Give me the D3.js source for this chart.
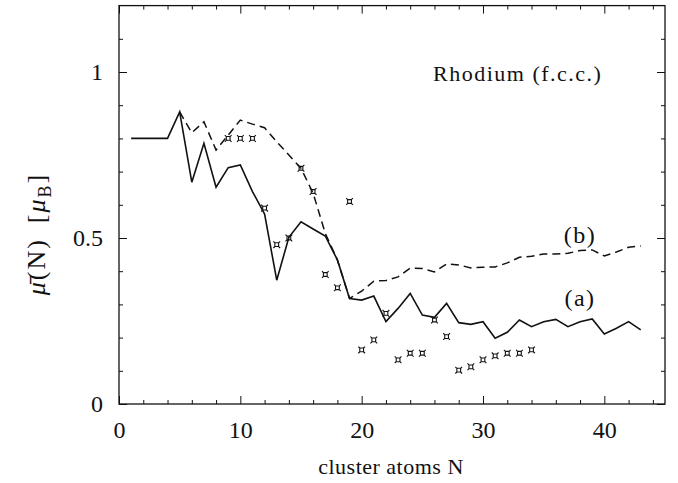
<!DOCTYPE html>
<html>
<head>
<meta charset="utf-8">
<script src="https://cdn.jsdelivr.net/npm/d3@7"></script>
<style>
  body { margin: 0; background: #fff; }
  svg text { font-family: "Liberation Serif", "DejaVu Serif", serif; fill: #111; }
  .axis path { display: none; }
  .axis line { stroke: #111; stroke-width: 1; }
</style>
</head>
<body>
<svg id="chart" width="678" height="483"></svg>
<script>
// cluster size N for the two calculated curves
var nA = d3.range(1, 44);
var nB = d3.range(5, 44);

// (a) solid curve
var muA = [0.80, 0.80, 0.80, 0.80, 0.88, 0.668, 0.785, 0.653, 0.712, 0.72,
           0.64, 0.572, 0.373, 0.502, 0.549, 0.527, 0.506, 0.434, 0.318, 0.313,
           0.325, 0.248, 0.288, 0.333, 0.268, 0.261, 0.303, 0.245, 0.240, 0.248,
           0.198, 0.216, 0.253, 0.233, 0.248, 0.255, 0.233, 0.248, 0.256, 0.211,
           0.228, 0.248, 0.223];

// (b) dashed curve
var muB = [0.88, 0.817, 0.85, 0.765, 0.81, 0.855, 0.843, 0.832, 0.79, 0.75,
           0.71, 0.635, 0.514, 0.434, 0.318, 0.34, 0.37, 0.372, 0.383, 0.409,
           0.408, 0.398, 0.422, 0.419, 0.41, 0.412, 0.413, 0.425, 0.442, 0.445,
           0.452, 0.452, 0.454, 0.462, 0.464, 0.446, 0.458, 0.472, 0.476];

// experiment
var nExp = [9, 10, 11, 12, 13, 14, 15, 16, 17, 18, 19, 20, 21, 22, 23, 24, 25,
            26, 27, 28, 29, 30, 31, 32, 33, 34];
var muExp = [0.80, 0.80, 0.80, 0.59, 0.48, 0.50, 0.71, 0.64, 0.39, 0.35, 0.61,
             0.163, 0.193, 0.273, 0.133, 0.153, 0.153, 0.253, 0.203, 0.102,
             0.112, 0.133, 0.145, 0.153, 0.153, 0.163];

var xMajor = [0, 10, 20, 30, 40];
var yMajor = [0, 0.5, 1];

var svg = d3.select('#chart');
var pL = 119, pR = 665, pT = 5.6, pB = 404;

var x = d3.scaleLinear().domain([0, 45]).range([pL, pR]);
var y = d3.scaleLinear().domain([0, 1.2]).range([pB, pT]);

var fmt = function(d) { return d === 0.5 ? '0.5' : String(d); };

// minor ticks, all four sides
var minorX = d3.range(0, 46, 2).filter(function(d) { return d % 10 != 0; });
var minorY = d3.range(1, 12).map(function(i) { return i / 10; })
    .filter(function(d) { return Math.abs(d - 0.5) > 1e-6 && Math.abs(d - 1) > 1e-6; });

svg.append('g').attr('class', 'axis').attr('transform', 'translate(0,' + pB + ')')
    .call(d3.axisBottom(x).tickValues(minorX).tickSize(-4).tickFormat(''));
svg.append('g').attr('class', 'axis').attr('transform', 'translate(0,' + pT + ')')
    .call(d3.axisTop(x).tickValues(minorX).tickSize(-4).tickFormat(''));
svg.append('g').attr('class', 'axis').attr('transform', 'translate(' + pL + ',0)')
    .call(d3.axisLeft(y).tickValues(minorY).tickSize(-4).tickFormat(''));
svg.append('g').attr('class', 'axis').attr('transform', 'translate(' + pR + ',0)')
    .call(d3.axisRight(y).tickValues(minorY).tickSize(-4).tickFormat(''));

// major ticks with labels
var gx = svg.append('g').attr('class', 'axis').attr('transform', 'translate(0,' + pB + ')')
    .call(d3.axisBottom(x).tickValues(xMajor).tickSize(-8).tickPadding(17).tickFormat(fmt));
var gy = svg.append('g').attr('class', 'axis').attr('transform', 'translate(' + pL + ',0)')
    .call(d3.axisLeft(y).tickValues(yMajor).tickSize(-8).tickPadding(16).tickFormat(fmt));
svg.append('g').attr('class', 'axis').attr('transform', 'translate(0,' + pT + ')')
    .call(d3.axisTop(x).tickValues(xMajor).tickSize(-8).tickFormat(''));
svg.append('g').attr('class', 'axis').attr('transform', 'translate(' + pR + ',0)')
    .call(d3.axisRight(y).tickValues(yMajor).tickSize(-8).tickFormat(''));

gx.selectAll('text').style('font-size', '24px');
gy.selectAll('text').style('font-size', '24px');

// frame
svg.append('rect')
    .attr('x', pL).attr('y', pT)
    .attr('width', pR - pL).attr('height', pB - pT)
    .attr('fill', 'none').attr('stroke', '#111').attr('stroke-width', 1.3);

var line = d3.line()
    .x(function(d) { return x(d[0]); })
    .y(function(d) { return y(d[1]); });

svg.append('path')
    .datum(d3.zip(nB, muB))
    .attr('d', line)
    .attr('fill', 'none').attr('stroke', '#111').attr('stroke-width', 1.5)
    .attr('stroke-dasharray', '8,5');

svg.append('path')
    .datum(d3.zip(nA, muA))
    .attr('d', line)
    .attr('fill', 'none').attr('stroke', '#111').attr('stroke-width', 1.6);

// little boxed-star markers for the experiment
var boxMark = {
    draw: function(ctx, size) {
        var s = Math.sqrt(size) / 2, e = s * 1.8;
        ctx.moveTo(-s, -s); ctx.lineTo(s, -s); ctx.lineTo(s, s); ctx.lineTo(-s, s); ctx.closePath();
        ctx.moveTo(-s, -s); ctx.lineTo(-e, -e);
        ctx.moveTo(s, -s); ctx.lineTo(e, -e);
        ctx.moveTo(s, s); ctx.lineTo(e, e);
        ctx.moveTo(-s, s); ctx.lineTo(-e, e);
    }
};

svg.append('g').selectAll('path')
    .data(d3.zip(nExp, muExp))
    .join('path')
    .attr('transform', function(d) { return 'translate(' + x(d[0]) + ',' + y(d[1]) + ')'; })
    .attr('d', d3.symbol().type(boxMark).size(14))
    .attr('fill', 'none').attr('stroke', '#111').attr('stroke-width', 1.1);

// labels
svg.append('text').attr('x', 433).attr('y', 81)
    .style('font-size', '22px').style('letter-spacing', '1.5px').text('Rhodium (f.c.c.)');
svg.append('text').attr('x', 580).attr('y', 243).attr('text-anchor', 'middle')
    .style('font-size', '24px').style('letter-spacing', '1.5px').text('(b)');
svg.append('text').attr('x', 580).attr('y', 306).attr('text-anchor', 'middle')
    .style('font-size', '24px').style('letter-spacing', '1.5px').text('(a)');

svg.append('text').attr('x', 391).attr('y', 474).attr('text-anchor', 'middle')
    .style('font-size', '22px').style('letter-spacing', '0.5px').text('cluster atoms N');

var yl = svg.append('text')
    .attr('transform', 'translate(45,234) rotate(-90)')
    .attr('text-anchor', 'middle')
    .style('font-size', '26px')
    .style('letter-spacing', '2px');
yl.append('tspan').style('font-style', 'italic').text('\u03bc\u0304');
yl.append('tspan').text('(N)\u2002[');
yl.append('tspan').style('font-style', 'italic').text('\u03bc');
yl.append('tspan').attr('dy', 6).style('font-size', '18px').text('B');
yl.append('tspan').attr('dy', -6).text(']');
</script>
</body>
</html>
